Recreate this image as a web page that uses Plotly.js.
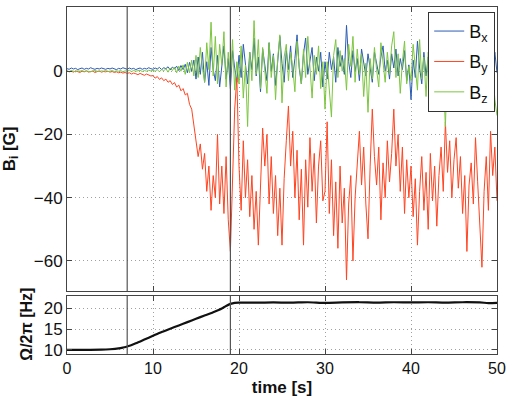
<!DOCTYPE html>
<html>
<head>
<meta charset="utf-8">
<script src="https://cdn.plot.ly/plotly-3.0.1.min.js"></script>
<style>html,body{margin:0;padding:0;background:#fff;}#chart{width:506px;height:399px;}</style>
</head>
<body>
<div id="chart"></div>
<script>
// sampling of the field series (seconds)
const sampleStart = 0;
const sampleStep = 0.25;

// B_x [G], one value per sample (t = 0 ... 50 s)
const bx = [
  0.8,0.6,1.0,0.7,0.9,0.5,0.8,1.0,0.6,0.9,0.7,1.1,0.8,0.6,0.9,0.7,1.0,0.8,0.6,0.9,
  0.7,1.0,0.8,0.5,0.9,0.7,1.1,0.8,0.6,1.0,0.7,0.9,0.5,0.8,1.0,0.6,0.9,0.7,1.1,0.8,
  0.6,1.0,0.7,1.2,0.5,1.1,0.8,1.4,0.4,1.3,0.7,1.6,0.2,1.8,0.5,2.2,-0.5,2.8,0.0,3.5,
  -2.5,4.5,-1.0,6.0,-3.5,3.0,-4.5,7.5,0.5,-3.0,5.0,-5.0,2.0,8.0,-2.5,4.0,-5.5,6.5,1.0,-3.5,
  5.0,-2.0,8.5,1.5,-4.0,6.0,0.5,10.5,-1.5,4.5,-6.5,7.0,2.0,-3.0,9.0,0.0,5.5,-4.5,3.0,11.0,
  2.5,-3.5,6.5,0.5,8.0,-2.0,4.0,11.5,1.0,-4.0,5.5,10.5,-1.0,3.5,7.5,-3.0,4.5,0.0,6.0,-5.0,
  3.0,-2.5,6.0,0.5,4.5,-3.5,7.5,1.5,5.0,-1.0,14.5,3.0,-2.0,6.5,0.0,4.0,-3.0,7.0,2.0,-1.5,
  5.5,0.5,-3.5,6.0,2.5,-1.0,4.5,8.0,0.0,3.5,-2.5,5.5,1.0,7.0,-1.5,4.0,0.5,6.5,-3.0,2.0,
  -9.0,3.5,-2.0,9.5,1.0,-4.0,6.0,-1.5,4.5,0.0,7.0,-3.5,2.5,5.0,-2.5,6.5,1.0,-4.5,3.0,8.0,
  2.0,-3.0,5.5,0.5,-2.0,7.0,1.5,-4.0,4.0,0.0,6.0,-2.5,3.0,-1.0,5.0,0.5,-3.5,4.5,1.0,6.0,-0.5
];

// B_y [G]
const by = [
  0.1,-0.2,0.0,-0.3,0.1,-0.1,-0.4,0.0,-0.2,0.1,-0.3,-0.1,0.0,-0.4,-0.2,0.1,-0.3,-0.1,-0.2,0.0,
  -0.3,-0.1,-0.4,-0.2,-0.5,-0.3,-0.6,-0.4,-0.7,-0.5,-0.9,-0.6,-0.8,-1.1,-0.7,-1.0,-1.3,-0.9,-1.2,-1.5,
  -1.4,-2.2,-1.7,-2.6,-2.1,-3.0,-2.5,-3.5,-3.0,-4.2,-3.6,-5.0,-4.4,-6.2,-5.5,-7.5,-7.0,-10.5,-12.0,-16.5,
  -21,-27,-23,-31,-26,-38,-30,-44,-33,-40,-20,-42,-30,-45,-27,-47,-57,-35,-12,-2,
  -30,-44,-22,-40,-28,-46,-33,-50,-38,-55,-36,-18,-30,-20,-42,-27,-45,-33,-52,-37,
  -55,-34,-22,-11,-30,-19,-40,-25,-47,-31,-55,-28,-43,-21,-38,-26,-48,-30,-22,-41,
  -38,-16,-45,-28,-52,-35,-56,-30,-48,-37,-66,-42,-33,-60,-40,-28,-19,-36,-24,-42,
  -53,-30,-12,-27,-36,-24,-47,-29,-40,-22,-35,-26,-12,-30,-20,-38,-24,-45,-28,-40,
  -30,-46,-34,-55,-38,-27,-44,-32,-50,-26,-41,-30,-49,-33,-24,-38,-16,-32,-22,-40,
  -28,-21,-37,-27,-45,-33,-57,-36,-29,-42,-21,-35,-47,-62,-38,-27,-44,-19,-33,-24,-41
];

// B_z [G]
const bz = [
  0.1,-0.1,0.2,0.0,-0.2,0.1,0.0,0.2,-0.1,0.1,0.0,-0.2,0.1,0.2,0.0,-0.1,0.1,0.0,0.2,-0.1,
  0.0,0.2,-0.1,0.1,0.0,0.2,-0.2,0.1,0.0,0.3,-0.1,0.2,0.0,0.1,0.3,-0.1,0.2,0.0,0.3,0.1,
  0.3,0.0,0.5,-0.2,0.6,0.1,0.8,-0.3,1.0,0.2,1.3,-0.5,1.6,0.0,2.0,-1.0,2.8,-0.5,3.5,-1.5,
  5.0,-2.0,7.5,1.0,-3.5,9.0,0.5,15.5,-1.5,11.0,-4.0,8.5,2.0,12.5,-5.0,6.0,-2.5,10.0,-6.0,3.0,
  -4.0,8.0,-8.5,2.0,-17.5,6.0,-3.0,16.0,-1.0,10.0,-5.5,7.5,1.0,-7.0,9.0,-2.0,5.0,-9.0,4.0,11.5,
  -10.0,4.5,8.5,-3.0,6.0,1.0,-6.5,9.5,2.0,-4.0,7.0,-2.0,11.0,0.5,-8.5,5.0,-1.0,8.0,-5.5,3.0,
  -12.0,3.0,-4.5,-14.5,5.0,10.0,-2.0,6.5,0.0,4.0,-6.0,8.5,1.5,11.0,-3.5,7.0,-1.0,5.5,-8.0,2.5,
  -13.0,4.0,-2.5,7.5,0.5,-5.0,9.0,2.0,-3.5,6.0,-1.0,8.0,12.5,-2.0,5.5,-7.0,3.0,9.5,-4.0,1.5,
  -3.0,8.5,1.0,-6.0,10.0,-2.5,4.5,-8.0,6.0,0.0,-4.0,7.0,2.0,-5.5,3.5,-1.5,-17.5,5.0,-3.0,6.5,
  -2.0,4.0,-6.5,1.5,7.5,-3.0,2.5,-5.0,5.5,0.0,-4.0,8.0,-1.5,3.5,-7.0,2.0,6.0,-3.5,1.0,-9.0,-14.0
];

// rotation frequency Omega/2pi [Hz]
const omegaTime = [0,2,4,5,6,6.5,7,8,9,10,11,12,13,14,15,16,17,18,18.5,19,19.5,20,22,24,26,28,30,32,34,36,38,40,42,44,46,48,49,50];
const omegaVals = [10.0,10.0,10.05,10.15,10.35,10.55,10.8,11.6,12.5,13.4,14.3,15.1,15.9,16.7,17.5,18.3,19.1,20.0,20.6,21.1,21.35,21.4,21.4,21.45,21.4,21.5,21.35,21.45,21.5,21.4,21.5,21.45,21.5,21.4,21.5,21.45,21.3,21.35];

// event markers (s)
const markerTimes = [7, 19];

const seriesNames = ['B<sub>x</sub>', 'B<sub>y</sub>', 'B<sub>z</sub>'];
const seriesColors = ['#2a5cb4', '#ff4421', '#7dc63f'];
const fieldSeries = [bx, by, bz];

const xTicks = [0, 10, 20, 30, 40, 50];
const bTicks = [-60, -40, -20, 0, 20];
const omegaTicks = [10, 15, 20];

const traces = fieldSeries.map((vals, k) => ({
  type: 'scatter', mode: 'lines',
  x0: sampleStart, dx: sampleStep, y: vals,
  name: seriesNames[k], legendgroup: 'g' + k,
  line: {color: seriesColors[k], width: 1},
  xaxis: 'x', yaxis: 'y'
}));
traces.push({
  type: 'scatter', mode: 'lines',
  x: omegaTime, y: omegaVals,
  line: {color: '#111', width: 2.2, shape: 'spline', smoothing: 0.6},
  showlegend: false,
  xaxis: 'x2', yaxis: 'y2'
});

const frameColor = '#444';
const gridColor = '#a0a0a0';
const font = {family: 'Liberation Sans, Arial, sans-serif', size: 17, color: '#111'};

const axisCommon = {
  showline: true, mirror: 'ticks', linecolor: frameColor, linewidth: 1,
  ticks: 'inside', ticklen: 5, tickcolor: frameColor,
  showgrid: true, gridcolor: gridColor, griddash: '1px,3px', gridwidth: 1,
  zeroline: false
};

const shapes = [];
markerTimes.forEach(t => {
  shapes.push({type: 'line', xref: 'x', yref: 'y domain', x0: t, x1: t, y0: 0, y1: 1, line: {color: '#555', width: 1.2}});
  shapes.push({type: 'line', xref: 'x2', yref: 'y2 domain', x0: t, x1: t, y0: 0, y1: 1, line: {color: '#555', width: 1.2}});
});

const layout = {
  width: 506, height: 399,
  margin: {l: 67, r: 9, t: 7, b: 45},
  paper_bgcolor: '#fff', plot_bgcolor: '#fff',
  font: font,
  showlegend: true,
  legend: {
    x: 0.84, y: 0.986, xanchor: 'left', yanchor: 'top',
    bgcolor: '#fff', bordercolor: '#333', borderwidth: 1,
    font: {family: 'Liberation Sans, Arial, sans-serif', size: 18, color: '#111'},
    itemwidth: 30, tracegroupgap: 4
  },
  xaxis: Object.assign({}, axisCommon, {
    domain: [0, 1], range: [0, 50], tickvals: xTicks, showticklabels: false, anchor: 'y'
  }),
  yaxis: Object.assign({}, axisCommon, {
    domain: [0.1816, 1], range: [-69.5, 20.3], tickvals: bTicks,
    ticktext: bTicks.map(v => v < 0 ? '\u2212' + Math.abs(v) : String(v)), anchor: 'x'
  }),
  xaxis2: Object.assign({}, axisCommon, {
    domain: [0, 1], range: [0, 50], tickvals: xTicks, anchor: 'y2',
    tickfont: {size: 16},
    title: {text: '<b>time [s]</b>', font: {size: 17}, standoff: 4}
  }),
  yaxis2: Object.assign({}, axisCommon, {
    domain: [0, 0.1671], range: [9, 23], tickvals: omegaTicks, anchor: 'x2'
  }),
  shapes: shapes,
  annotations: [
    {text: '<b>B<sub>i</sub> [G]</b>', xref: 'paper', yref: 'paper', x: -0.13, y: 0.59,
     xanchor: 'center', yanchor: 'middle', textangle: -90, showarrow: false, font: {size: 17}},
    {text: '<b>\u03A9/2\u03C0 [Hz]</b>', xref: 'paper', yref: 'paper', x: -0.095, y: 0.085,
     xanchor: 'center', yanchor: 'middle', textangle: -90, showarrow: false, font: {size: 16}}
  ]
};

Plotly.newPlot('chart', traces, layout, {displayModeBar: false, staticPlot: true});
</script>
</body>
</html>
